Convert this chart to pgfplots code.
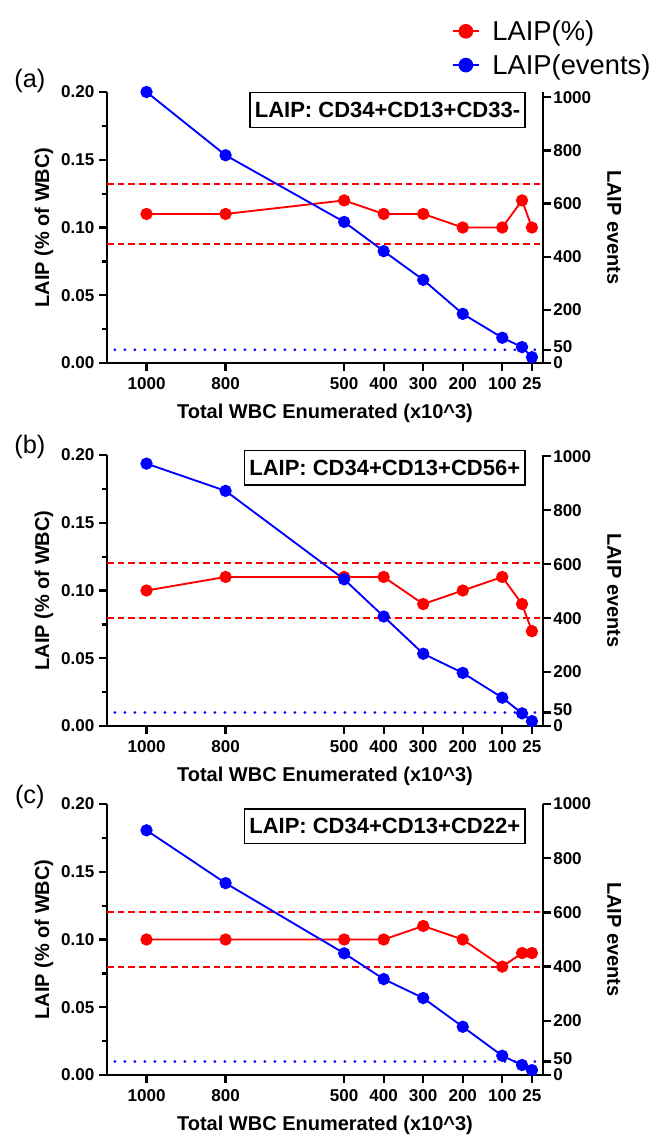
\documentclass[border=0pt]{standalone}
\usepackage{fontspec}
\setmainfont{Liberation Sans}
\usepackage{pgfplots}
\pgfplotsset{compat=1.18}

\definecolor{laipred}{RGB}{255,0,0}
\definecolor{laipblue}{RGB}{0,0,255}

\tikzset{
  panellab/.style={font=\fontsize{19}{19}\selectfont, anchor=center},
  boxlab/.style={draw=black, line width=1.1pt, fill=white, anchor=north east,
    font=\bfseries\fontsize{16.5}{16.5}\selectfont, inner xsep=3.5pt,
    minimum height=26pt},
}

\pgfplotsset{
  base/.style={
    scale only axis, width=327pt, height=203.25pt,
    xmin=-3, xmax=1100, x dir=reverse,
    tick align=outside,
    axis line style={line width=2pt, black},
    every tick/.style={black, line width=1.7pt},
    major tick length=6pt, minor tick length=4pt,
    tick label style={font=\bfseries\fontsize{12.8}{12.8}\selectfont},
    label style={font=\bfseries\fontsize{15}{15}\selectfont},
    /pgf/number format/assume math mode=true,
    /pgf/number format/1000 sep={},
    clip=false,
  },
  leftax/.style={base,
    axis x line*=bottom, axis y line*=left,
    ymin=0, ymax=0.2,
    ytick={0,0.05,0.1,0.15,0.2},
    yticklabels={0.00,0.05,0.10,0.15,0.20},
    minor y tick num=1,
    xtick={1000,800,500,400,300,200,100,25},
    xticklabels={1000,800,500,400,300,200,100,25},
    xticklabel style={yshift=-1.5pt},
    xlabel={Total WBC Enumerated (x10\textasciicircum 3)},
    ylabel={LAIP (\% of WBC)},
    xlabel style={at={(axis description cs:0.5,-0.1845)}, anchor=center},
    ylabel style={at={(axis description cs:-0.1445,0.5)}, anchor=center},
  },
  rightax/.style={base,
    axis x line=none, axis y line*=right,
    ymin=0,
    ytick={0,200,400,600,800,1000},
    extra y ticks={50},
    extra y tick style={yticklabel style={yshift=2.2pt}},
    yticklabel style={inner xsep=1.5pt},
    ylabel={LAIP events},
    ylabel style={at={(axis description cs:1.163,0.5)}, anchor=center, rotate=180},
  },
  redser/.style={laipred, line width=1.4pt, mark=*, mark size=3.9pt,
    mark options={solid, fill=laipred, draw=laipred}},
  blueser/.style={laipblue, line width=1.4pt, mark=*, mark size=3.9pt,
    mark options={solid, fill=laipblue, draw=laipblue}},
  dashline/.style={laipred, line width=1.5pt, dash pattern=on 5pt off 3pt, forget plot},
  dotline/.style={laipblue, line width=2.2pt, line cap=round, dash pattern=on 0pt off 7.5pt, forget plot},
}

\begin{document}
\begin{tikzpicture}
\path[use as bounding box] (0,0) rectangle (487.5pt,-852pt);

% ---------- (a)
\begin{axis}[leftax, at={(80.25pt,-272.25pt)}, anchor=south west,
  legend style={at={(axis description cs:0.78,1.28)}, anchor=north west,
    draw=none, fill=none, font=\fontsize{20.5}{20.5}\selectfont,
    row sep=7pt, nodes={inner sep=1pt},
    /tikz/every odd column/.append style={column sep=8pt}},
  legend cell align=left,
  legend image code/.code={\draw[mark repeat=2,mark phase=2,#1,line width=1.8pt,mark size=4.6pt]
    plot coordinates {(0pt,0pt) (10pt,0pt) (20pt,0pt)};}]
\addplot[dashline] coordinates {(1100,0.132) (-3,0.132)};
\addplot[dashline] coordinates {(1100,0.088) (-3,0.088)};
\addplot[redser] coordinates {
  (1000,0.11) (800,0.11) (500,0.12) (400,0.11) (300,0.11)
  (200,0.10) (100,0.10) (50,0.12) (25,0.10)};
\addlegendentry{LAIP(\%)}
\addlegendimage{blueser}
\addlegendentry{LAIP(events)}
\node[panellab] at (axis description cs:-0.177,1.04) {(a)};
\end{axis}
\begin{axis}[rightax, at={(80.25pt,-272.25pt)}, anchor=south west, ymax=1020]
\addplot[dotline] coordinates {(1080,50) (10,50)};
\addplot[blueser] coordinates {
  (1000,1020) (800,782) (500,531) (400,421) (300,313)
  (200,185) (100,95) (50,60) (25,22)};
\node[boxlab] at (axis description cs:0.96,1.0) {LAIP: CD34+CD13+CD33-};
\end{axis}

% ---------- (b)
\begin{axis}[leftax, at={(80.25pt,-544.5pt)}, anchor=south west]
\addplot[dashline] coordinates {(1100,0.12) (-3,0.12)};
\addplot[dashline] coordinates {(1100,0.08) (-3,0.08)};
\addplot[redser] coordinates {
  (1000,0.10) (800,0.11) (500,0.11) (400,0.11) (300,0.09)
  (200,0.10) (100,0.11) (50,0.09) (25,0.07)};
\node[panellab] at (axis description cs:-0.177,1.03) {(b)};
\end{axis}
\begin{axis}[rightax, at={(80.25pt,-544.5pt)}, anchor=south west, ymax=1005]
\addplot[dotline] coordinates {(1080,50) (10,50)};
\addplot[blueser] coordinates {
  (1000,973) (800,872) (500,544) (400,406) (300,268)
  (200,197) (100,105) (50,47) (25,18)};
\node[boxlab] at (axis description cs:0.96,1.02) {LAIP: CD34+CD13+CD56+};
\end{axis}

% ---------- (c)
\begin{axis}[leftax, at={(80.25pt,-806.25pt)}, anchor=south west]
\addplot[dashline] coordinates {(1100,0.12) (-3,0.12)};
\addplot[dashline] coordinates {(1100,0.08) (-3,0.08)};
\addplot[redser] coordinates {
  (1000,0.10) (800,0.10) (500,0.10) (400,0.10) (300,0.11)
  (200,0.10) (100,0.08) (50,0.09) (25,0.09)};
\node[panellab] at (axis description cs:-0.177,1.026) {(c)};
\end{axis}
\begin{axis}[rightax, at={(80.25pt,-806.25pt)}, anchor=south west, ymax=1000]
\addplot[dotline] coordinates {(1080,50) (10,50)};
\addplot[blueser] coordinates {
  (1000,903) (800,708) (500,449) (400,354) (300,284)
  (200,178) (100,71) (50,37) (25,18)};
\node[boxlab] at (axis description cs:0.96,0.985) {LAIP: CD34+CD13+CD22+};
\end{axis}
\end{tikzpicture}
\end{document}
